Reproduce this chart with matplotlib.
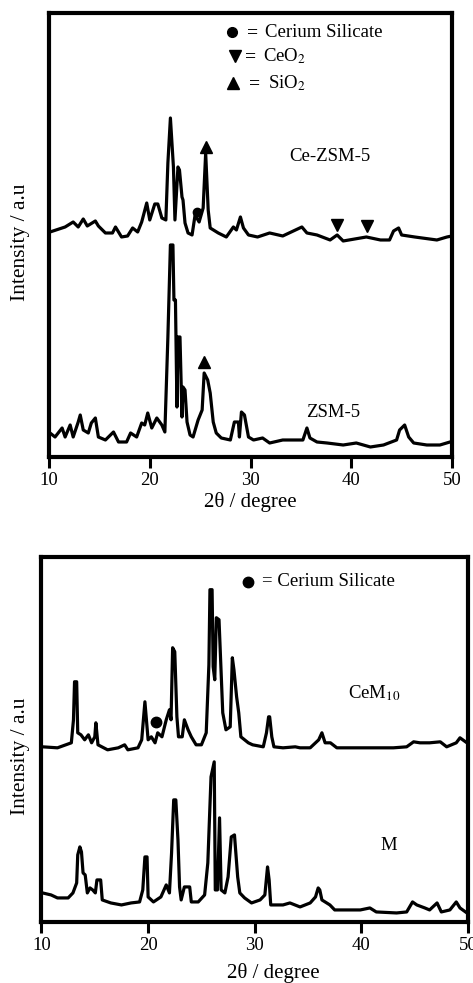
import matplotlib
matplotlib.use("Agg")
import matplotlib.pyplot as plt

plt.rcParams['font.family'] = ['Liberation Serif', 'DejaVu Serif']
plt.rcParams['mathtext.fontset'] = 'stix'

# ---- top panel: Ce-ZSM-5 and ZSM-5 (2theta in degree, intensity in a.u.)
ce_zsm5_tt = [10.1, 11.6, 12.4, 12.9, 13.4, 13.8, 14.6, 14.9, 15.6, 16.3, 16.6, 17.2,
              17.8, 18.3, 18.8, 19.2, 19.7, 20.0, 20.5, 20.8, 21.2, 21.6, 21.8, 22.05,
              22.35, 22.5, 22.8, 22.95, 23.2, 23.3, 23.5, 23.8, 24.2, 24.5, 24.9, 25.3,
              25.55, 25.8, 26.0, 26.8, 27.6, 28.3, 28.6, 29.0, 29.3, 29.8, 30.7, 31.9,
              33.2, 35.1, 35.6, 36.6, 37.9, 38.6, 39.2, 41.5, 42.9, 43.8, 44.2, 44.7,
              45.0, 46.3, 48.5, 49.5, 50.0]
ce_zsm5_int = [225, 230, 235, 230, 238, 231, 236, 231, 224, 224, 230, 220,
               221, 229, 225, 235, 254, 237, 253, 253, 239, 237, 294, 339,
               290, 237, 290, 287, 260, 257, 234, 224, 222, 242, 235, 249,
               304, 247, 229, 224, 220, 230, 227, 240, 229, 222, 220, 224,
               221, 230, 224, 222, 217, 222, 216, 220, 217, 217, 226, 229,
               222, 220, 217, 220, 221]

zsm5_tt = [10.1, 10.6, 11.3, 11.6, 12.1, 12.4, 12.9, 13.1, 13.4, 13.9, 14.2, 14.6,
           14.9, 15.6, 16.4, 16.9, 17.7, 18.1, 18.7, 19.2, 19.5, 19.8, 20.2, 20.7,
           21.2, 21.5, 21.8, 22.05, 22.3, 22.4, 22.55, 22.7, 22.8, 23.0, 23.2, 23.3,
           23.5, 23.7, 24.0, 24.3, 24.8, 25.2, 25.4, 25.75, 26.0, 26.3, 26.6, 27.1,
           28.0, 28.4, 28.8, 28.9, 29.1, 29.4, 29.8, 30.3, 31.2, 31.9, 33.2, 35.2,
           35.6, 35.9, 36.6, 37.6, 39.2, 40.5, 41.9, 43.2, 44.5, 44.8, 45.3, 45.7,
           46.2, 47.5, 48.8, 49.8]
zsm5_int = [24, 20, 29, 20, 32, 20, 35, 42, 27, 24, 34, 39,
            20, 17, 25, 15, 15, 24, 20, 34, 32, 44, 29, 39,
            32, 25, 120, 212, 212, 157, 157, 50, 120, 120, 40, 70,
            67, 35, 22, 20, 37, 47, 84, 77, 64, 35, 24, 19,
            17, 35, 35, 20, 45, 42, 20, 17, 19, 14, 17, 17,
            29, 19, 15, 14, 12, 14, 10, 12, 17, 27, 32, 20,
            14, 12, 12, 15]

# phase markers, top panel
silicate_top = (24.65, 245)
ceo2_top = ([38.6, 41.6], [232, 231])
sio2_top = ([25.55, 25.35], [310, 95])

# ---- bottom panel: CeM10 and M
cem10_tt = [10.1, 11.5, 12.8, 13.0, 13.1, 13.3, 13.4, 13.7, 14.05, 14.4, 14.7, 15.0,
            15.1, 15.3, 16.2, 17.2, 17.8, 18.1, 19.05, 19.4, 19.7, 20.0, 20.3, 20.65,
            20.9, 21.3, 21.7, 22.0, 22.15, 22.3, 22.5, 22.7, 22.85, 23.2, 23.4, 23.75,
            24.05, 24.5, 25.0, 25.45, 25.7, 25.8, 26.0, 26.1, 26.25, 26.4, 26.65, 26.8,
            27.0, 27.3, 27.7, 27.9, 28.05, 28.3, 28.5, 28.7, 29.4, 29.8, 30.8, 31.1,
            31.3, 31.4, 31.6, 31.8, 32.65, 33.8, 34.25, 35.2, 36.0, 36.3, 36.6, 37.1,
            37.7, 38.9, 40.2, 41.75, 43.0, 44.25, 44.9, 45.5, 46.4, 47.4, 48.0, 48.9,
            49.25, 49.9]
cem10_int = [175, 174, 179, 202, 240, 240, 189, 187, 182, 187, 179, 185,
             199, 177, 172, 174, 177, 172, 174, 182, 220, 182, 185, 179,
             189, 185, 202, 212, 202, 274, 270, 205, 185, 185, 202, 192,
             185, 177, 177, 189, 257, 332, 332, 255, 242, 304, 302, 262,
             209, 192, 195, 264, 252, 225, 209, 185, 179, 177, 175, 189,
             205, 205, 185, 175, 174, 175, 174, 174, 182, 189, 179, 179,
             174, 174, 174, 174, 174, 175, 180, 179, 179, 180, 175, 179,
             184, 179]

m_tt = [10.1, 10.9, 11.5, 12.5, 12.95, 13.3, 13.4, 13.6, 13.75, 13.9, 14.1, 14.3,
        14.55, 14.8, 15.05, 15.2, 15.55, 15.7, 16.5, 17.5, 18.4, 19.2, 19.5, 19.7,
        19.9, 20.0, 20.5, 21.2, 21.7, 22.0, 22.2, 22.4, 22.6, 22.8, 22.95, 23.1,
        23.4, 23.9, 24.05, 24.7, 25.3, 25.6, 25.9, 26.2, 26.3, 26.5, 26.7, 26.85,
        27.2, 27.5, 27.8, 28.1, 28.4, 28.6, 29.05, 29.7, 30.5, 30.95, 31.2, 31.35,
        31.5, 32.65, 33.3, 34.25, 35.2, 35.7, 35.95, 36.1, 36.3, 36.6, 37.05, 37.5,
        39.9, 40.8, 41.4, 43.3, 44.25, 44.8, 45.2, 45.95, 46.4, 47.1, 47.5, 48.3,
        48.9, 49.25, 49.9]
m_int = [29, 27, 24, 24, 29, 39, 67, 75, 70, 49, 47, 29,
         34, 32, 29, 42, 42, 22, 19, 17, 19, 20, 32, 65,
         65, 25, 20, 25, 37, 29, 69, 122, 122, 82, 35, 22,
         35, 35, 20, 20, 27, 59, 145, 160, 32, 32, 104, 32,
         29, 45, 85, 87, 45, 29, 24, 19, 22, 27, 55, 42,
         17, 17, 19, 15, 19, 25, 34, 32, 22, 20, 17, 12,
         12, 14, 10, 9, 10, 20, 17, 14, 12, 19, 10, 12,
         20, 14, 9]

silicate_bottom = (20.75, 200)

fig = plt.figure(figsize=(4.73, 9.83), dpi=100)
ax1 = fig.add_axes([0.1036, 0.5351, 0.852, 0.4517])
ax2 = fig.add_axes([0.0877, 0.0621, 0.9017, 0.3716])

lw = 2.3
ax1.plot(ce_zsm5_tt, ce_zsm5_int, color='black', lw=lw)
ax1.plot(zsm5_tt, zsm5_int, color='black', lw=lw)
ax1.plot(*silicate_top, 'o', color='black', ms=6)
ax1.plot(*ceo2_top, 'v', color='black', ms=9, ls='none')
ax1.plot(*sio2_top, '^', color='black', ms=9, ls='none')
ax1.set_ylim(0, 444)

ax2.plot(cem10_tt, cem10_int, color='black', lw=lw)
ax2.plot(m_tt, m_int, color='black', lw=lw)
ax2.plot(*silicate_bottom, 'o', color='black', ms=7.5)
ax2.set_ylim(0, 365)

for ax in (ax1, ax2):
    ax.set_xlim(10, 50)
    ax.set_xticks([10, 20, 30, 40, 50])
    ax.set_yticks([])
    for s in ax.spines.values():
        s.set_linewidth(3)
    ax.tick_params(axis='x', direction='out', length=8, width=2.2,
                   labelsize=13.5, pad=3)

# legend-like keys, top panel
tr = ax1.transAxes
ax1.plot(0.454, 0.957, 'o', color='black', ms=7, transform=tr)
ax1.text(0.506, 0.957, '=', fontsize=14, fontweight='bold', ha='center', va='center', transform=tr)
ax1.text(0.536, 0.957, 'Cerium Silicate', fontsize=13.5, ha='left', va='center', transform=tr)
ax1.plot(0.4615, 0.903, 'v', color='black', ms=8, transform=tr)
ax1.text(0.501, 0.903, '=', fontsize=14, fontweight='bold', ha='center', va='center', transform=tr)
ax1.text(0.531, 0.903, 'CeO$_2$', fontsize=13.5, ha='left', va='center', transform=tr)
ax1.plot(0.4566, 0.842, '^', color='black', ms=8, transform=tr)
ax1.text(0.509, 0.842, '=', fontsize=14, fontweight='bold', ha='center', va='center', transform=tr)
ax1.text(0.543, 0.842, 'SiO$_2$', fontsize=13.5, ha='left', va='center', transform=tr)
ax1.text(0.697, 0.676, 'Ce-ZSM-5', fontsize=13.5, ha='center', va='center', transform=tr)
ax1.text(0.705, 0.101, 'ZSM-5', fontsize=13.5, ha='center', va='center', transform=tr)

tr2 = ax2.transAxes
ax2.plot(0.484, 0.932, 'o', color='black', ms=7.5, transform=tr2)
ax2.text(0.517, 0.932, '= Cerium Silicate', fontsize=13.5, ha='left', va='center', transform=tr2)
ax2.text(0.719, 0.627, 'CeM$_{10}$', fontsize=13.5, ha='left', va='center', transform=tr2)
ax2.text(0.815, 0.208, 'M', fontsize=13.5, ha='center', va='center', transform=tr2)

# axis labels
fig.text(250.5 / 473, 1 - 502 / 983, '2θ / degree', fontsize=15, ha='center', va='center')
fig.text(273.5 / 473, 1 - 973 / 983, '2θ / degree', fontsize=15, ha='center', va='center')
fig.text(20 / 473, 1 - 242 / 983, 'Intensity / a.u', fontsize=15.5, rotation=90, ha='center', va='center')
fig.text(20 / 473, 1 - 756 / 983, 'Intensity / a.u', fontsize=15.5, rotation=90, ha='center', va='center')

fig.savefig('out.png', dpi=100)
